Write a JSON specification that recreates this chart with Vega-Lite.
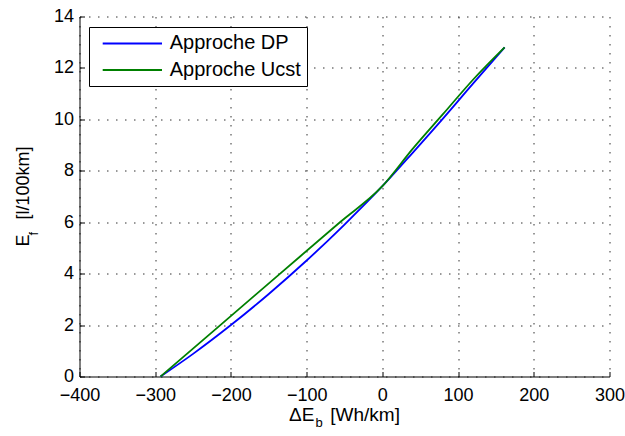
{
  "$schema": "https://vega.github.io/schema/vega-lite/v6.json",
  "width": 530,
  "height": 360,
  "autosize": "none",
  "padding": {"left": 79.5, "top": 16.5, "right": 15.5, "bottom": 59.5},
  "background": "white",
  "config": {"view": {"stroke": null}, "font": "Liberation Sans"},
  "data": {"values": [
    {"x": -293, "y": 0, "s": "Approche DP"},
    {"x": -250, "y": 0.88, "s": "Approche DP"},
    {"x": -200, "y": 2, "s": "Approche DP"},
    {"x": -150, "y": 3.21, "s": "Approche DP"},
    {"x": -100, "y": 4.51, "s": "Approche DP"},
    {"x": -50, "y": 5.91, "s": "Approche DP"},
    {"x": 0, "y": 7.4, "s": "Approche DP"},
    {"x": 40, "y": 8.7, "s": "Approche DP"},
    {"x": 80, "y": 10.03, "s": "Approche DP"},
    {"x": 120, "y": 11.4, "s": "Approche DP"},
    {"x": 161.5, "y": 12.8, "s": "Approche DP"},
    {"x": -293, "y": 0, "s": "Approche Ucst"},
    {"x": -214, "y": 2, "s": "Approche Ucst"},
    {"x": -135, "y": 4, "s": "Approche Ucst"},
    {"x": -56, "y": 6, "s": "Approche Ucst"},
    {"x": 0, "y": 7.4, "s": "Approche Ucst"},
    {"x": 40, "y": 8.85, "s": "Approche Ucst"},
    {"x": 80, "y": 10.2, "s": "Approche Ucst"},
    {"x": 120, "y": 11.55, "s": "Approche Ucst"},
    {"x": 161.5, "y": 12.8, "s": "Approche Ucst"}
  ]},
  "layer": [
    {
      "mark": {"type": "line", "strokeWidth": 1.8, "interpolate": "monotone"},
      "encoding": {
        "x": {
          "field": "x", "type": "quantitative",
          "scale": {"domain": [-400, 300], "nice": false, "zero": false},
          "axis": {
            "values": [-400, -300, -200, -100, 0, 100, 200, 300],
            "labelFlush": false, "labelOverlap": false,
            "labelFontSize": 18, "labelColor": "black", "labelPadding": 15,
            "tickSize": -5, "tickColor": "black", "domainColor": "black",
            "grid": true, "gridColor": "#333", "gridDash": [1.5, 7.5], "gridWidth": 1,
            "title": "ΔE\u00a0\u00a0\u00a0[Wh/km]", "titleFontSize": 19, "titleFontWeight": "normal",
            "titleColor": "black", "titleX": 264.5, "titleY": 44, "titleBaseline": "alphabetic", "titleAlign": "center"
          }
        },
        "y": {
          "field": "y", "type": "quantitative",
          "scale": {"domain": [0, 14], "nice": false},
          "axis": {
            "values": [0, 2, 4, 6, 8, 10, 12, 14],
            "labelFontSize": 18, "labelColor": "black", "labelPadding": 11,
            "tickSize": -5, "tickColor": "black", "domainColor": "black",
            "grid": true, "gridColor": "#333", "gridDash": [1.5, 7.5], "gridWidth": 1,
            "title": "E\u00a0\u00a0\u00a0[l/100km]", "titleFontSize": 18, "titleFontWeight": "normal",
            "titleColor": "black", "titleX": -51.5, "titleY": 179.5, "titleAngle": 270,
            "titleBaseline": "alphabetic", "titleAlign": "center"
          }
        },
        "color": {
          "field": "s", "type": "nominal",
          "scale": {"domain": ["Approche DP", "Approche Ucst"], "range": ["#0000ff", "#008000"]},
          "legend": {
            "orient": "none", "legendX": 9.5, "legendY": 10.5, "title": null,
            "symbolType": "M-0.27,0H5.66", "symbolSize": 400, "symbolStrokeWidth": 2,
            "labelFontSize": 20, "labelColor": "black", "labelOffset": 53.3,
            "strokeColor": "black", "fillColor": "white", "padding": 5.4, "rowPadding": 5.6
          }
        }
      }
    },
    {
      "mark": {"type": "point", "opacity": 0},
      "encoding": {
        "x": {
          "field": "x", "type": "quantitative",
          "axis": {
            "orient": "bottom", "domain": false, "ticks": false, "labels": false, "grid": false,
            "title": "b", "titleFontSize": 13, "titleFontWeight": "normal", "titleColor": "black",
            "titleX": 239, "titleY": 49.5, "titleBaseline": "alphabetic", "titleAlign": "center"
          }
        },
        "y": {
          "field": "y", "type": "quantitative",
          "axis": {
            "orient": "left", "domain": false, "ticks": false, "labels": false, "grid": false,
            "title": "f", "titleFontSize": 13, "titleFontWeight": "normal", "titleColor": "black",
            "titleX": -42.5, "titleY": 216.8, "titleAngle": 270, "titleBaseline": "alphabetic", "titleAlign": "center"
          }
        }
      }
    }
  ],
  "resolve": {"axis": {"x": "independent", "y": "independent"}}
}
